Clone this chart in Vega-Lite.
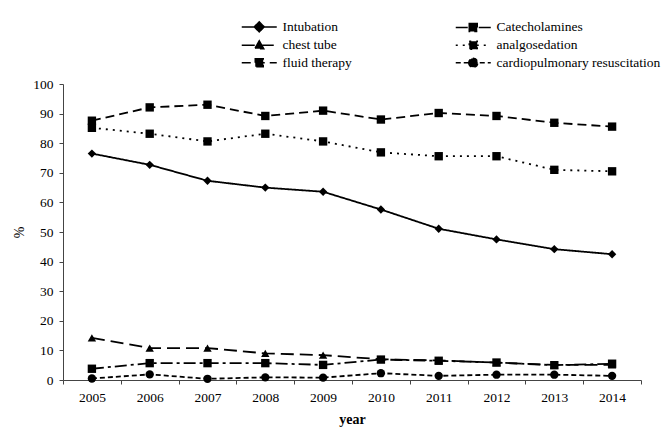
{
  "$schema": "https://vega.github.io/schema/vega-lite/v6.json",
  "width": 578,
  "height": 296,
  "autosize": {"type": "none"},
  "padding": {"left": 63, "top": 84, "right": 25, "bottom": 57},
  "background": "white",
  "config": {
    "view": {"stroke": null},
    "font": "Liberation Serif",
    "axis": {
      "labelFont": "Liberation Serif",
      "labelFontSize": 13.5,
      "labelColor": "black",
      "titleFont": "Liberation Serif",
      "titleColor": "black",
      "domainColor": "#444",
      "tickColor": "#444",
      "tickSize": 4,
      "grid": false
    }
  },
  "data": {
    "values": [
      {"year": "2005", "series": "Intubation", "value": 76.5},
      {"year": "2006", "series": "Intubation", "value": 72.7},
      {"year": "2007", "series": "Intubation", "value": 67.3},
      {"year": "2008", "series": "Intubation", "value": 65},
      {"year": "2009", "series": "Intubation", "value": 63.6},
      {"year": "2010", "series": "Intubation", "value": 57.6},
      {"year": "2011", "series": "Intubation", "value": 51.1},
      {"year": "2012", "series": "Intubation", "value": 47.5},
      {"year": "2013", "series": "Intubation", "value": 44.2},
      {"year": "2014", "series": "Intubation", "value": 42.5},
      {"year": "2005", "series": "Catecholamines", "value": 3.8},
      {"year": "2006", "series": "Catecholamines", "value": 5.7},
      {"year": "2007", "series": "Catecholamines", "value": 5.7},
      {"year": "2008", "series": "Catecholamines", "value": 5.7},
      {"year": "2009", "series": "Catecholamines", "value": 5.1},
      {"year": "2010", "series": "Catecholamines", "value": 6.9},
      {"year": "2011", "series": "Catecholamines", "value": 6.5},
      {"year": "2012", "series": "Catecholamines", "value": 5.9},
      {"year": "2013", "series": "Catecholamines", "value": 5.0},
      {"year": "2014", "series": "Catecholamines", "value": 5.5},
      {"year": "2005", "series": "chest tube", "value": 14.2},
      {"year": "2006", "series": "chest tube", "value": 10.8},
      {"year": "2007", "series": "chest tube", "value": 10.8},
      {"year": "2008", "series": "chest tube", "value": 9.0},
      {"year": "2009", "series": "chest tube", "value": 8.4},
      {"year": "2010", "series": "chest tube", "value": 7.0},
      {"year": "2011", "series": "chest tube", "value": 6.6},
      {"year": "2012", "series": "chest tube", "value": 5.9},
      {"year": "2013", "series": "chest tube", "value": 5.1},
      {"year": "2014", "series": "chest tube", "value": 5.1},
      {"year": "2005", "series": "analgosedation", "value": 85.2},
      {"year": "2006", "series": "analgosedation", "value": 83.2},
      {"year": "2007", "series": "analgosedation", "value": 80.6},
      {"year": "2008", "series": "analgosedation", "value": 83.2},
      {"year": "2009", "series": "analgosedation", "value": 80.6},
      {"year": "2010", "series": "analgosedation", "value": 76.9},
      {"year": "2011", "series": "analgosedation", "value": 75.6},
      {"year": "2012", "series": "analgosedation", "value": 75.6},
      {"year": "2013", "series": "analgosedation", "value": 71.0},
      {"year": "2014", "series": "analgosedation", "value": 70.5},
      {"year": "2005", "series": "fluid therapy", "value": 87.6},
      {"year": "2006", "series": "fluid therapy", "value": 92.1},
      {"year": "2007", "series": "fluid therapy", "value": 93.0},
      {"year": "2008", "series": "fluid therapy", "value": 89.2},
      {"year": "2009", "series": "fluid therapy", "value": 91.0},
      {"year": "2010", "series": "fluid therapy", "value": 88.0},
      {"year": "2011", "series": "fluid therapy", "value": 90.2},
      {"year": "2012", "series": "fluid therapy", "value": 89.2},
      {"year": "2013", "series": "fluid therapy", "value": 86.9},
      {"year": "2014", "series": "fluid therapy", "value": 85.6},
      {"year": "2005", "series": "cardiopulmonary resuscitation", "value": 0.5},
      {"year": "2006", "series": "cardiopulmonary resuscitation", "value": 1.9},
      {"year": "2007", "series": "cardiopulmonary resuscitation", "value": 0.4},
      {"year": "2008", "series": "cardiopulmonary resuscitation", "value": 0.9},
      {"year": "2009", "series": "cardiopulmonary resuscitation", "value": 0.8},
      {"year": "2010", "series": "cardiopulmonary resuscitation", "value": 2.3},
      {"year": "2011", "series": "cardiopulmonary resuscitation", "value": 1.4},
      {"year": "2012", "series": "cardiopulmonary resuscitation", "value": 1.8},
      {"year": "2013", "series": "cardiopulmonary resuscitation", "value": 1.8},
      {"year": "2014", "series": "cardiopulmonary resuscitation", "value": 1.4}
    ]
  },
  "encoding": {
    "x": {
      "field": "year",
      "type": "ordinal",
      "bandPosition": 0.5,
      "scale": {"type": "band", "paddingInner": 0, "paddingOuter": 0},
      "axis": {
        "title": "year",
        "titleFontSize": 14,
        "titleFontWeight": "bold",
        "titlePadding": 9,
        "labelAngle": 0,
        "labelPadding": 6,
        "tickBand": "extent"
      }
    },
    "y": {
      "field": "value",
      "type": "quantitative",
      "scale": {"domain": [0, 100], "nice": false},
      "axis": {
        "title": "%",
        "titleFontSize": 14,
        "titleFontWeight": "normal",
        "titlePadding": 6,
        "labelPadding": 6,
        "values": [0, 10, 20, 30, 40, 50, 60, 70, 80, 90, 100]
      }
    }
  },
  "resolve": {"scale": {"shape": "independent", "strokeDash": "independent"}},
  "layer": [
    {
      "mark": {"type": "line", "color": "black", "strokeWidth": 1.8},
      "encoding": {
        "detail": {"field": "series"},
        "strokeDash": {
          "field": "series",
          "type": "nominal",
          "scale": {
            "domain": ["Intubation", "Catecholamines", "chest tube", "analgosedation", "fluid therapy", "cardiopulmonary resuscitation"],
            "range": [[1, 0], [12, 4, 3, 4], [13, 6], [2, 5], [9, 5], [5, 3]]
          },
          "legend": null
        }
      }
    },
    {
      "mark": {"type": "point", "filled": true, "color": "black", "opacity": 1},
      "encoding": {
        "shape": {
          "field": "series",
          "type": "nominal",
          "scale": {
            "domain": ["Intubation", "Catecholamines", "chest tube", "analgosedation", "fluid therapy", "cardiopulmonary resuscitation"],
            "range": ["diamond", "square", "triangle-up", "square", "square", "circle"]
          },
          "legend": null
        },
        "size": {"value": 70}
      }
    },
    {
      "transform": [{"filter": "false"}],
      "mark": {"type": "point", "filled": true, "color": "black", "stroke": "black", "strokeWidth": 1.8, "opacity": 1},
      "encoding": {
        "shape": {
          "field": "series",
          "type": "nominal",
          "scale": {
            "domain": ["Intubation", "chest tube", "fluid therapy", "Catecholamines", "analgosedation", "cardiopulmonary resuscitation"],
            "range": [
              "M0,0H7M3.5,-1L4.5,0L3.5,1L2.5,0Z",
              "M0,0H7M3.5,-0.9L4.4,0.7H2.6Z",
              "M0,0H7M2.7,-0.8H4.3V0.8H2.7Z",
              "M0,0H7M2.7,-0.8H4.3V0.8H2.7Z",
              "M0,0H7M2.7,-0.8H4.3V0.8H2.7Z",
              "M0,0H7M2.6,0A0.9,0.9,0,1,0,4.4,0A0.9,0.9,0,1,0,2.6,0Z"
            ]
          },
          "legend": {
            "orient": "none",
            "legendX": 172,
            "legendY": -64,
            "columns": 2,
            "columnPadding": 97,
            "rowPadding": 2.5,
            "padding": 0,
            "title": null,
            "labelFont": "Liberation Serif",
            "labelFontSize": 13.5,
            "labelColor": "black",
            "labelOffset": 34,
            "labelLimit": 300
          }
        },
        "strokeDash": {
          "field": "series",
          "type": "nominal",
          "scale": {
            "domain": ["Intubation", "chest tube", "fluid therapy", "Catecholamines", "analgosedation", "cardiopulmonary resuscitation"],
            "range": [[1, 0], [13, 6], [9, 5], [12, 4, 3, 4], [2, 5], [5, 3]]
          },
          "legend": {
            "orient": "none",
            "legendX": 172,
            "legendY": -64,
            "columns": 2,
            "columnPadding": 97,
            "rowPadding": 2.5,
            "padding": 0,
            "title": null,
            "labelFont": "Liberation Serif",
            "labelFontSize": 13.5,
            "labelColor": "black",
            "labelOffset": 34,
            "labelLimit": 300
          }
        }
      }
    }
  ]
}
